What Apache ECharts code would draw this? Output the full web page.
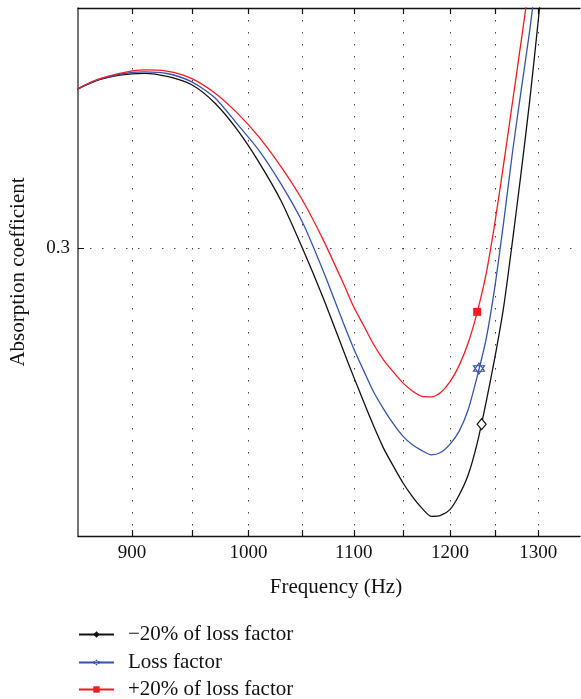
<!DOCTYPE html>
<html>
<head>
<meta charset="utf-8">
<script src="https://cdn.jsdelivr.net/npm/echarts@6/dist/echarts.min.js"></script>
<style>
  html, body { margin: 0; padding: 0; background: #fff; }
  #chart { width: 581px; height: 699px; }
</style>
</head>
<body>
<div id="chart"></div>
<script>
// frequency samples (Hz), x axis is logarithmic
const freqHz = [850, 870, 890, 910, 930, 950, 970, 990, 1010, 1030, 1050, 1070, 1090,
  1100, 1110, 1120, 1130, 1140, 1150, 1160, 1170, 1180, 1190, 1200, 1210, 1220, 1230,
  1240, 1250, 1260, 1270, 1280, 1290, 1300, 1310, 1320]

const minus20 = [0.3322, 0.3347, 0.3360, 0.3364, 0.3357, 0.3340, 0.3302, 0.3246, 0.3177, 0.3098, 0.3000, 0.2896, 0.2785,
  0.2731, 0.2679, 0.2629, 0.2583, 0.2546, 0.2511, 0.2482, 0.2458, 0.2441, 0.2443, 0.2455, 0.2485, 0.2527, 0.2593,
  0.2679, 0.2773, 0.2879, 0.3015, 0.3158, 0.3308, 0.3475, 0.3652, 0.3829]

const lossFactor = [0.3322, 0.3348, 0.3362, 0.3367, 0.3363, 0.3346, 0.3313, 0.3258, 0.3202, 0.3133, 0.3054, 0.2952, 0.2842,
  0.2790, 0.2744, 0.2700, 0.2665, 0.2634, 0.2608, 0.2590, 0.2578, 0.2569, 0.2574, 0.2591, 0.2618, 0.2663, 0.2732,
  0.2810, 0.2921, 0.3056, 0.3200, 0.3329, 0.3454, 0.3596, 0.3735, 0.3881]

const plus20 = [0.3322, 0.3349, 0.3364, 0.3371, 0.3368, 0.3353, 0.3323, 0.3281, 0.3230, 0.3169, 0.3100, 0.3017, 0.2925,
  0.2877, 0.2838, 0.2799, 0.2767, 0.2742, 0.2719, 0.2702, 0.2691, 0.2690, 0.2699, 0.2721, 0.2755, 0.2802, 0.2866,
  0.2946, 0.3054, 0.3177, 0.3304, 0.3431, 0.3558, 0.3683, 0.3808, 0.3933]

// single marker drawn on each curve
const markerHz = [1235, 1232, 1230]
const markerValue = [0.2633, 0.2749, 0.2867]

const seriesNames = ['\u221220% of loss factor', 'Loss factor', '+20% of loss factor']
const xTicks = [900, 950, 1000, 1050, 1100, 1150, 1200, 1250, 1300]
const xLabels = [900, 1000, 1100, 1200, 1300]
const yTicks = [0.3]

const FONT = 'Liberation Serif'
const hexagram = 'path://M0,-10L8.66,5L-8.66,5Z M0,10L8.66,-5L-8.66,-5Z'

const chart = echarts.init(document.getElementById('chart'))

const toXY = vals => freqHz.map((f, i) => [Math.log(f), vals[i]])

const dotted = { color: '#444', width: 1, type: [1.5, 10.5] }

function makeSeries(name, vals, color, symbol, idx, markStyle, markSize) {
  return {
    name: name,
    type: 'line',
    data: toXY(vals),
    smooth: 0.25,
    showSymbol: false,
    symbol: symbol,
    symbolSize: 6,
    color: color,
    lineStyle: { color: color, width: 1.3 },
    itemStyle: { color: color },
    clip: true,
    markPoint: {
      symbol: symbol,
      symbolSize: markSize,
      label: { show: false },
      itemStyle: markStyle,
      data: [{ coord: [Math.log(markerHz[idx]), markerValue[idx]] }]
    }
  }
}

// one legend block per row, stacked under the plot
function legendRow(name, top) {
  return {
    orient: 'vertical',
    left: 78,
    top: top,
    padding: 0,
    itemWidth: 35,
    itemHeight: 8,
    data: [name],
    textStyle: { fontFamily: FONT, fontSize: 21, color: '#111', padding: [0, 0, 0, 9] }
  }
}

const xCommon = {
  type: 'value',
  min: Math.log(857),
  max: Math.log(1350),
  axisLine: { show: true, lineStyle: { color: '#111', width: 1.3 } },
  axisTick: { show: true, inside: true, length: 6, customValues: xTicks.map(Math.log), lineStyle: { color: '#111', width: 1.2 } }
}

const option = {
  animation: false,
  textStyle: { fontFamily: FONT, color: '#111' },
  grid: { left: 78, right: 1, top: 8, bottom: 163, containLabel: false, outerBoundsMode: 'none' },
  legend: [
    legendRow(seriesNames[0], 624),
    legendRow(seriesNames[1], 652),
    legendRow(seriesNames[2], 679)
  ],
  xAxis: [
    Object.assign({}, xCommon, {
      position: 'bottom',
      name: 'Frequency (Hz)',
      nameLocation: 'middle',
      nameGap: 41,
      nameTextStyle: { fontFamily: FONT, fontSize: 21, color: '#111', padding: [0, 0, 0, 14] },
      axisLabel: {
        customValues: xLabels.map(Math.log),
        margin: 8,
        fontFamily: FONT,
        fontSize: 19,
        color: '#111',
        formatter: v => String(Math.round(Math.exp(v)))
      },
      splitLine: { show: true, lineStyle: dotted }
    }),
    Object.assign({}, xCommon, {
      position: 'top',
      axisLabel: { show: false },
      splitLine: { show: false }
    })
  ],
  yAxis: {
    type: 'value',
    min: 0.24,
    max: 0.35,
    name: 'Absorption coefficient',
    nameLocation: 'middle',
    nameGap: 49,
    nameTextStyle: { fontFamily: FONT, fontSize: 21, color: '#111' },
    axisLine: { show: true, lineStyle: { color: '#444', width: 1.5 } },
    axisTick: { show: true, inside: true, length: 6, customValues: yTicks, lineStyle: { color: '#111' } },
    axisLabel: { customValues: yTicks, margin: 8, fontFamily: FONT, fontSize: 19, color: '#111', formatter: v => v.toFixed(1) },
    splitLine: { show: true, lineStyle: dotted }
  },
  series: [
    makeSeries(seriesNames[0], minus20, '#111111', 'diamond', 0,
      { color: '#fff', borderColor: '#111', borderWidth: 1.2 }, [9, 11]),
    makeSeries(seriesNames[1], lossFactor, '#3553a8', hexagram, 1,
      { color: 'rgba(0,0,0,0)', borderColor: '#3553a8', borderWidth: 1.2 }, 11),
    makeSeries(seriesNames[2], plus20, '#f01c24', 'rect', 2,
      { color: '#f01c24' }, 8)
  ]
}

chart.setOption(option)
</script>
</body>
</html>
